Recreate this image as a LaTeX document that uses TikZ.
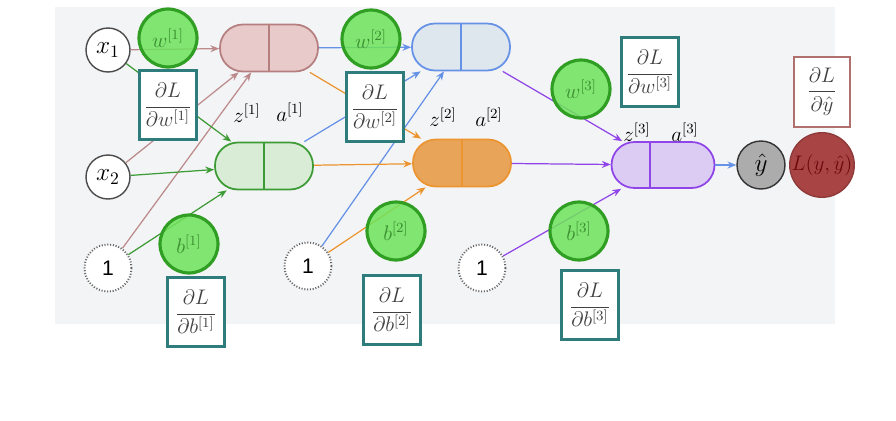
\documentclass[tikz,border=0pt]{standalone}
\usepackage{amsmath,amssymb}
\usepackage{fontspec}
\setsansfont{Liberation Sans}
\usepackage{tikz}
\usetikzlibrary{
  arrows.meta,
  calc
}
\definecolor{bgcol}{HTML}{F3F4F6}
\definecolor{redD}{HTML}{B57F7F}
\definecolor{redF}{HTML}{E9CACA}
\definecolor{redE}{HTML}{BC8A8A}
\definecolor{grnD}{HTML}{3D9B35}
\definecolor{grnF}{HTML}{D9EDD6}
\definecolor{bluD}{HTML}{6591E6}
\definecolor{bluF}{HTML}{DEE6EE}
\definecolor{orgD}{HTML}{EC9530}
\definecolor{orgF}{HTML}{E8A55A}
\definecolor{purD}{HTML}{8F45E8}
\definecolor{purF}{HTML}{DCCCF3}
\definecolor{pardraw}{HTML}{2F9E23}
\definecolor{parfill}{HTML}{6EE35A}
\definecolor{partext}{HTML}{3A8E30}
\definecolor{gradcol}{HTML}{2E7C7C}
\definecolor{dycol}{HTML}{B07070}
\definecolor{lossF}{HTML}{A84444}
\definecolor{lossT}{HTML}{6B0A0A}

\begin{document}
\begin{tikzpicture}[
  x=0.02cm, y=-0.02cm,
  inp/.style={circle, draw=gray!60!black, fill=white, thick, minimum size=0.88cm, inner sep=0pt, font=\Large},
  bias/.style={circle, draw=gray!80!black, line width=1.1pt, dash pattern=on 0.6pt off 1pt, fill=white, minimum size=0.94cm, inner sep=0pt, font=\sffamily\large},
  param/.style={circle, draw=pardraw, line width=1.8pt, fill=parfill, fill opacity=0.85, text opacity=1, text=partext, minimum size=1.16cm, inner sep=0pt, font=\large},
  grad/.style={draw=gradcol, line width=1.3pt, fill=white, text=black!75, minimum width=1.14cm, minimum height=1.38cm, inner sep=0pt, font=\large},
  unit/.style={rounded corners=0.46cm, line width=1pt, minimum width=1.96cm, minimum height=0.94cm},
  conn/.style={line width=0.7pt, -{Stealth[length=5pt,width=4pt]}},
  lbl/.style={font=\large},
]
  \useasboundingbox (0,0) rectangle (896,420);
  \fill[bgcol] (55,7) rectangle (835,324);

  % Inputs
  \node[inp] (x1) at (108,50) {$x_1$};
  \node[inp] (x2) at (108,177) {$x_2$};
  \node[bias] (one1) at (108,268) {1};
  \node[bias] (one2) at (308,266) {1};
  \node[bias] (one3) at (482,268) {1};

  % Units
  \node[unit, draw=redD, fill=redF] (h11) at (269,48) {};
  \node[unit, draw=grnD, fill=grnF] (h12) at (264,166) {};
  \node[unit, draw=bluD, fill=bluF] (h21) at (461,47) {};
  \node[unit, draw=orgD, fill=orgF] (h22) at (462,163) {};
  \node[unit, draw=purD, fill=purF, minimum width=2.06cm, minimum height=0.92cm] (h3) at (663,165) {};
  \foreach \h/\c in {h11/redD, h12/grnD, h21/bluD, h22/orgD}
    \draw[\c, line width=1pt] (\h.north) -- (\h.south);
  \draw[purD, line width=1pt] ([xshift=-0.26cm]h3.north) -- ([xshift=-0.26cm]h3.south);

  % Output and loss
  \node[circle, draw=gray!40!black, fill=gray!65, thick, minimum size=0.96cm, inner sep=0pt, font=\Large] (yhat) at (761,165) {$\hat{y}$};
  \node[circle, draw=lossF!85!black, fill=lossF, thick, minimum size=1.16cm, inner sep=0pt, text=lossT, font=\fontsize{11.5}{13}\selectfont] (loss) at (822,165) {$L(y,\hat{y})$};

  % Layer 1
  \draw[conn, redE] (x1) -- (h11);
  \draw[conn, redE] (x2) -- (h11);
  \draw[conn, redE] (one1) -- (h11);
  \draw[conn, grnD] (x1) -- (h12);
  \draw[conn, grnD] (x2) -- (h12);
  \draw[conn, grnD] (one1) -- (h12);

  % Layer 2
  \draw[conn, bluD] (h11) -- (h21);
  \draw[conn, bluD] (h12) -- (h21);
  \draw[conn, bluD] (one2) -- (h21);
  \draw[conn, orgD] (h11) -- (h22);
  \draw[conn, orgD] (h12) -- (h22);
  \draw[conn, orgD] (one2) -- (h22);

  % Layer 3
  \draw[conn, purD] (h21) -- (h3);
  \draw[conn, purD] (h22) -- (h3);
  \draw[conn, purD] (one3) -- (h3);
  \draw[conn, bluD] (h3) -- (yhat);

  % Weights and biases
  \node[param] (w1) at (168,38) {$w^{[1]}$};
  \node[param] (w2) at (371,39) {$w^{[2]}$};
  \node[param] (w3) at (581,89) {$w^{[3]}$};
  \node[param] (b1) at (189,244) {$b^{[1]}$};
  \node[param] (b2) at (396,231) {$b^{[2]}$};
  \node[param] (b3) at (579,231) {$b^{[3]}$};

  % Gradients
  \node[grad] (dw1) at (168,105) {$\dfrac{\partial L}{\partial w^{[1]}}$};
  \node[grad] (dw2) at (375,107) {$\dfrac{\partial L}{\partial w^{[2]}}$};
  \node[grad] (dw3) at (650,72) {$\dfrac{\partial L}{\partial w^{[3]}}$};
  \node[grad] (db1) at (196,312) {$\dfrac{\partial L}{\partial b^{[1]}}$};
  \node[grad] (db2) at (392,310) {$\dfrac{\partial L}{\partial b^{[2]}}$};
  \node[grad] (db3) at (590,305) {$\dfrac{\partial L}{\partial b^{[3]}}$};
  \node[grad, draw=dycol, minimum width=1.12cm, minimum height=1.4cm] (dy) at (822,92) {$\dfrac{\partial L}{\partial \hat{y}}$};

  % Labels
  \node[lbl] (z1) at (247,113) {$z^{[1]}$};
  \node[lbl] (a1) at (290,112) {$a^{[1]}$};
  \node[lbl] (z2) at (443,117) {$z^{[2]}$};
  \node[lbl] (a2) at (489,117) {$a^{[2]}$};
  \node[lbl] (z3) at (637,132) {$z^{[3]}$};
  \node[lbl] (a3) at (685,132) {$a^{[3]}$};
\end{tikzpicture}
\end{document}
